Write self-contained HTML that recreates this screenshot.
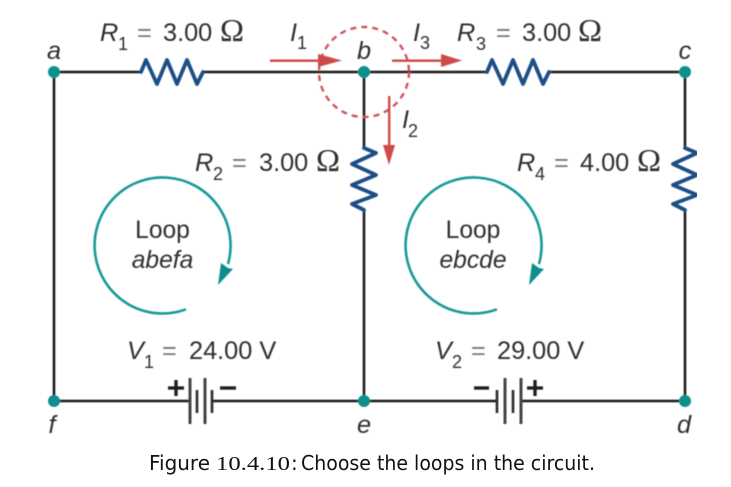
<!DOCTYPE html>
<html><head><meta charset="utf-8"><style>
html,body{margin:0;padding:0;background:#fff;width:731px;height:487px;overflow:hidden}
svg{display:block}
.t{font-family:"Liberation Sans",sans-serif;font-size:25.3px;fill:#2e2e2e}
.l{font-size:24.6px}
.i{font-style:italic}
.s{font-size:18px}
.o{font-family:"Liberation Serif",serif;font-size:32px}
.e{fill:#777}
.c{font-family:"DejaVu Sans",sans-serif;font-size:20px;fill:#111}
.m{font-family:"Liberation Serif",serif;font-size:20.5px;fill:#111}
</style></head><body>
<svg width="731" height="487" viewBox="0 0 731 487" xmlns="http://www.w3.org/2000/svg">
<defs><filter id="b" x="0" y="0" width="100%" height="100%"><feGaussianBlur stdDeviation="0.45"/></filter></defs>
<g filter="url(#b)">
<g stroke="#1c1c1c" stroke-width="2.6" fill="none">
<path d="M54 72H141M203 72H487M549 72H685V148M685 210V401H521M497 401H364M212 401H364M190 401H54V72M364 72V148M364 210V401"/>
</g>
<g stroke="#1f4e85" stroke-width="3.8" fill="none" stroke-linejoin="round" stroke-linecap="round">
<path d="M141 72L146 60L157 84L167 60L177 84L187 60L197 84L203 72"/>
<path d="M487 72L492 60L503 84L513 60L523 84L533 60L543 84L549 72"/>
<path d="M364 148L376 153L352 164L376 175L352 185L376 195L352 204L364 210"/>
<path d="M685 148L697 153L673 164L697 175L673 185L697 195L673 204L685 210"/>
</g>
<circle cx="364" cy="72" r="45" fill="none" stroke="#d2525a" stroke-width="2.4" stroke-dasharray="6 5"/>
<g fill="#cf4a4a" stroke="none">
<rect x="270" y="59.500" width="50" height="2.400"/><path d="M318 54L342 60.500L318 67Z"/>
<rect x="392" y="59.500" width="50" height="2.400"/><path d="M441 54L462 60.500L441 67Z"/>
<rect x="388" y="96" width="2.400" height="50"/><path d="M383 145L389 165L395 145Z"/>
</g>
<g fill="#0d8f8c">
<circle cx="54" cy="72" r="6"/><circle cx="364" cy="72" r="6"/><circle cx="685" cy="72" r="6"/>
<circle cx="54" cy="401" r="6"/><circle cx="364" cy="401" r="6"/><circle cx="685" cy="401" r="6"/>
</g>
<g fill="none" stroke="#159a96" stroke-width="2.6">
<path d="M186 309.300A68 68 0 1 1 228 264"/>
<path d="M497 309.300A68 68 0 1 1 539 264"/>
</g>
<g fill="#0d8f8c">
<path d="M218 285L221 263L228 268L233 269Z"/>
<path d="M529 285L532 263L539 268L544 269Z"/>
</g>
<g fill="none">
<path d="M190 378V424M205 378V424M505 378V424M521 378V424" stroke-width="3" stroke="#444"/>
<path d="M197 390V413M212 390V413M497 390V413M513 390V413" stroke-width="2.6" stroke="#2a2a2a"/>
</g>
<g stroke="#1c1c1c" stroke-width="3.3" fill="none">
<path d="M168 388H184M176 380V396"/>
<path d="M220 388H236"/>
<path d="M474 388H489"/>
<path d="M527 388H543M535 380V396"/>
</g>
<text class="t i" x="100" y="41">R</text><text class="t s" x="118" y="50">1</text><text class="t e" x="137" y="41">=</text><text class="t" x="163" y="41">3.00</text><text class="t o" x="220" y="41" textLength="24" lengthAdjust="spacingAndGlyphs">Ω</text>
<text class="t i" x="195" y="171">R</text><text class="t s" x="213" y="180">2</text><text class="t e" x="232" y="171">=</text><text class="t" x="259" y="171">3.00</text><text class="t o" x="316" y="171" textLength="24" lengthAdjust="spacingAndGlyphs">Ω</text>
<text class="t i" x="457" y="41">R</text><text class="t s" x="476" y="50">3</text><text class="t e" x="496" y="41">=</text><text class="t" x="522" y="41">3.00</text><text class="t o" x="578" y="41" textLength="24" lengthAdjust="spacingAndGlyphs">Ω</text>
<text class="t i" x="517" y="171">R</text><text class="t s" x="535" y="180">4</text><text class="t e" x="554" y="171">=</text><text class="t" x="580" y="171">4.00</text><text class="t o" x="637" y="171" textLength="24" lengthAdjust="spacingAndGlyphs">Ω</text>
<text class="t i" x="54" y="59" text-anchor="middle">a</text>
<text class="t i" x="364" y="59" text-anchor="middle">b</text>
<text class="t i" x="685" y="59" text-anchor="middle">c</text>
<text class="t i" x="52" y="433" text-anchor="middle">f</text>
<text class="t i" x="364" y="433" text-anchor="middle">e</text>
<text class="t i" x="684" y="433" text-anchor="middle">d</text>
<text class="t i" x="290" y="41">I</text><text class="t s" x="297" y="49">1</text>
<text class="t i" x="413" y="41">I</text><text class="t s" x="420" y="49">3</text>
<text class="t i" x="402" y="128">I</text><text class="t s" x="408" y="137">2</text>
<text class="t l" x="162.500" y="238" text-anchor="middle">Loop</text>
<text class="t l i" x="162.500" y="268" text-anchor="middle">abefa</text>
<text class="t l" x="473" y="238" text-anchor="middle">Loop</text>
<text class="t l i" x="473" y="268" text-anchor="middle">ebcde</text>
<text class="t i" x="127" y="359">V</text><text class="t s" x="144" y="368">1</text><text class="t e" x="162" y="359">=</text><text class="t" x="189" y="359">24.00 V</text>
<text class="t i" x="435" y="359">V</text><text class="t s" x="452" y="368">2</text><text class="t e" x="471" y="359">=</text><text class="t" x="497" y="359">29.00 V</text>
</g>
<text class="c" x="149" y="470" textLength="61" lengthAdjust="spacingAndGlyphs">Figure</text>
<text class="m" x="216" y="470" textLength="74" lengthAdjust="spacingAndGlyphs">10.4.10</text>
<text class="c" x="291" y="470">:</text>
<text class="c" x="301" y="470" textLength="294" lengthAdjust="spacingAndGlyphs">Choose the loops in the circuit.</text>
</svg>
</body></html>
